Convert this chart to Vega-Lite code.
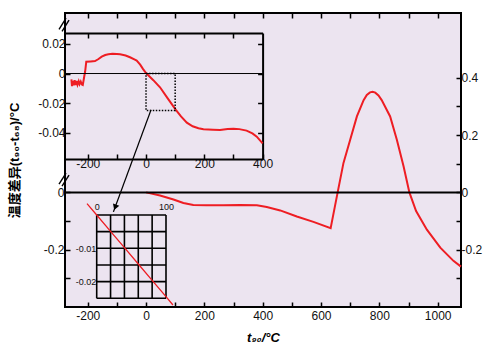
{
  "$schema": "https://vega.github.io/schema/vega-lite/v6.json",
  "width": 396,
  "height": 294,
  "autosize": {"type": "none"},
  "padding": {"left": 65, "top": 13, "right": 39, "bottom": 44},
  "background": "white",
  "config": {
    "view": {"fill": "#ECE4F0", "stroke": "black", "strokeWidth": 2},
    "font": "Liberation Sans",
    "axis": {"labelFont": "Liberation Sans", "labelFontSize": 12, "labelColor": "#111111", "tickColor": "black", "tickWidth": 1.5, "domainColor": "black", "grid": false, "labelOverlap": false, "labelFlush": false, "titleFont": "Liberation Sans, Noto Sans CJK SC", "titleColor": "black"}
  },
  "datasets": {
    "main": [
      {"t": 0, "d": 0}, {"t": 48, "d": -0.011}, {"t": 94, "d": -0.025}, {"t": 128, "d": -0.037}, {"t": 162, "d": -0.044},
      {"t": 208, "d": -0.045}, {"t": 265, "d": -0.045}, {"t": 322, "d": -0.044}, {"t": 380, "d": -0.045}, {"t": 414, "d": -0.051},
      {"t": 460, "d": -0.063}, {"t": 517, "d": -0.084}, {"t": 574, "d": -0.103}, {"t": 633, "d": -0.125}, {"t": 657, "d": 0},
      {"t": 677, "d": 0.103}, {"t": 700, "d": 0.184}, {"t": 723, "d": 0.265}, {"t": 746, "d": 0.322}, {"t": 757, "d": 0.34},
      {"t": 768, "d": 0.349}, {"t": 777, "d": 0.351}, {"t": 786, "d": 0.348}, {"t": 797, "d": 0.338}, {"t": 808, "d": 0.322},
      {"t": 837, "d": 0.265}, {"t": 860, "d": 0.184}, {"t": 883, "d": 0.091}, {"t": 903, "d": 0}, {"t": 926, "d": -0.065},
      {"t": 963, "d": -0.13}, {"t": 1009, "d": -0.193}, {"t": 1054, "d": -0.239}, {"t": 1080, "d": -0.259}
    ],
    "inset": [
      {"t": -256, "d": -0.004}, {"t": -254, "d": -0.0085}, {"t": -251, "d": -0.005}, {"t": -248, "d": -0.008}, {"t": -245, "d": -0.0045},
      {"t": -241, "d": -0.0078}, {"t": -238, "d": -0.005}, {"t": -235, "d": -0.0075}, {"t": -231, "d": -0.0052}, {"t": -228, "d": -0.0072},
      {"t": -224, "d": -0.0055}, {"t": -220, "d": -0.0075}, {"t": -217, "d": -0.0078}, {"t": -212, "d": -0.002}, {"t": -209, "d": 0.0012},
      {"t": -205, "d": 0.008}, {"t": -190, "d": 0.0082}, {"t": -175, "d": 0.0084}, {"t": -163, "d": 0.0098}, {"t": -152, "d": 0.0114},
      {"t": -140, "d": 0.0125}, {"t": -129, "d": 0.013}, {"t": -115, "d": 0.0133}, {"t": -100, "d": 0.0132}, {"t": -89, "d": 0.013},
      {"t": -70, "d": 0.0122}, {"t": -55, "d": 0.011}, {"t": -40, "d": 0.0095}, {"t": -32, "d": 0.0087}, {"t": -20, "d": 0.006},
      {"t": -10, "d": 0.003}, {"t": 0, "d": 0.0003}, {"t": 25, "d": -0.0045}, {"t": 48, "d": -0.0093}, {"t": 75, "d": -0.017},
      {"t": 103, "d": -0.0247}, {"t": 120, "d": -0.029}, {"t": 140, "d": -0.0332}, {"t": 160, "d": -0.0357}, {"t": 180, "d": -0.037},
      {"t": 197, "d": -0.0377}, {"t": 230, "d": -0.038}, {"t": 254, "d": -0.0382}, {"t": 280, "d": -0.0375}, {"t": 300, "d": -0.0373},
      {"t": 320, "d": -0.0376}, {"t": 345, "d": -0.0386}, {"t": 365, "d": -0.0405}, {"t": 380, "d": -0.0427}, {"t": 400, "d": -0.0472}
    ],
    "mag": [
      {"t": -14, "d": 0.0034}, {"t": 0, "d": 0}, {"t": 20, "d": -0.0049}, {"t": 40, "d": -0.0098}, {"t": 60, "d": -0.0147},
      {"t": 80, "d": -0.0196}, {"t": 100, "d": -0.0245}, {"t": 110, "d": -0.027}
    ],
    "gv": [{"gx": 0}, {"gx": 20}, {"gx": 40}, {"gx": 60}, {"gx": 80}, {"gx": 100}],
    "gh": [{"gy": 0}, {"gy": -0.005}, {"gy": -0.01}, {"gy": -0.015}, {"gy": -0.02}, {"gy": -0.025}],
    "breaks": [
      {"x1": -298.5, "y1": 0.569, "x2": -274.4, "y2": 0.608},
      {"x1": -288.2, "y1": 0.562, "x2": -264.2, "y2": 0.601},
      {"x1": -298.5, "y1": 0.0285, "x2": -274.4, "y2": 0.0668},
      {"x1": -288.2, "y1": 0.0216, "x2": -264.2, "y2": 0.0598}
    ],
    "arrow": [{"x1": 17, "y1": 0.288, "x2": -112, "y2": -0.068, "ax": -106, "ay": -0.052}]
  },
  "layer": [
    {
      "layer": [
        {
          "data": {"name": "main"},
          "mark": {"type": "line", "color": "#EE1D23", "strokeWidth": 2},
          "encoding": {
            "x": {"field": "t", "type": "quantitative", "scale": {"domain": [-278, 1080], "nice": false, "zero": false},
              "axis": {"orient": "bottom", "values": [-200, -100, 0, 100, 200, 300, 400, 500, 600, 700, 800, 900, 1000],
                "labelExpr": "datum.value % 200 == 0 ? (datum.value < 0 ? '-' + abs(datum.value) : '' + datum.value) : ''",
                "tickSize": -5, "domain": false, "labelPadding": 8, "title": "t₉₀/°C", "titleFontSize": 13, "titleFontWeight": "bold", "titleFontStyle": "italic", "titlePadding": 10}},
            "y": {"field": "d", "type": "quantitative", "scale": {"domain": [-0.4, 0.626], "nice": false, "zero": false},
              "axis": {"orient": "right", "values": [-0.3, -0.2, -0.1, 0, 0.1, 0.2, 0.3, 0.4],
                "labelExpr": "datum.value == 0.4 ? '0.4' : datum.value == 0.2 ? '0.2' : datum.value == 0 ? '0' : datum.value == -0.2 ? '-0.2' : ''",
                "tickSize": -5, "domain": false, "labelPadding": 5, "title": null}}
          }
        },
        {
          "data": {"values": [{}]},
          "mark": {"type": "rule", "color": "black", "strokeWidth": 2},
          "encoding": {
            "y": {"datum": 0, "type": "quantitative", "scale": {"domain": [-0.4, 0.626], "nice": false, "zero": false},
              "axis": {"orient": "left", "values": [0, -0.1, -0.2, -0.3],
                "labelExpr": "datum.value == 0 ? '0' : datum.value == -0.2 ? '-0.2' : ''",
                "tickSize": -5, "domain": false, "labelPadding": 6, "title": "温度差异(t₉₀-t₆₈)/°C", "titleFontSize": 13, "titleFontWeight": "bold", "titleX": -51, "titleBaseline": "middle"}}
          }
        },
        {
          "data": {"name": "breaks"},
          "mark": {"type": "rule", "color": "black", "strokeWidth": 1.4},
          "encoding": {
            "x": {"field": "x1", "type": "quantitative", "scale": {"domain": [-278, 1080], "nice": false, "zero": false},
              "axis": {"orient": "top", "values": [-200, -100, 0, 100, 200, 300, 400, 500, 600, 700, 800, 900, 1000], "labels": false, "tickSize": -5, "domain": false, "title": null}},
            "y": {"field": "y1", "type": "quantitative", "scale": {"domain": [-0.4, 0.626], "nice": false, "zero": false}, "axis": null},
            "x2": {"field": "x2"},
            "y2": {"field": "y2"}
          }
        },
        {
          "data": {"name": "arrow"},
          "mark": {"type": "rule", "color": "black", "strokeWidth": 1.3},
          "encoding": {
            "x": {"field": "x1", "type": "quantitative", "scale": {"domain": [-278, 1080], "nice": false, "zero": false}, "axis": null},
            "y": {"field": "y1", "type": "quantitative", "scale": {"domain": [-0.4, 0.626], "nice": false, "zero": false}, "axis": null},
            "x2": {"field": "x2"},
            "y2": {"field": "y2"}
          }
        },
        {
          "data": {"name": "arrow"},
          "mark": {"type": "point", "shape": "triangle-down", "filled": true, "color": "black", "size": 45, "angle": 20, "opacity": 1},
          "encoding": {
            "x": {"field": "ax", "type": "quantitative", "scale": {"domain": [-278, 1080], "nice": false, "zero": false}, "axis": null},
            "y": {"field": "ay", "type": "quantitative", "scale": {"domain": [-0.4, 0.626], "nice": false, "zero": false}, "axis": null}
          }
        }
      ],
      "resolve": {"axis": {"x": "independent", "y": "independent"}}
    },
    {
      "layer": [
        {
          "data": {"name": "inset"},
          "mark": {"type": "line", "color": "#EE1D23", "strokeWidth": 2},
          "encoding": {
            "x": {"field": "t", "type": "quantitative", "scale": {"domain": [-278, 400], "range": [0, 197.6], "nice": false, "zero": false},
              "axis": {"orient": "bottom", "offset": -148, "values": [-200, -100, 0, 100, 200, 300, 400],
                "labelExpr": "datum.value % 200 == 0 ? (datum.value < 0 ? '-' + abs(datum.value) : '' + datum.value) : ''",
                "tickSize": -5, "domain": true, "domainWidth": 2, "labelPadding": 4, "title": null}},
            "y": {"field": "d", "type": "quantitative", "scale": {"domain": [-0.0578, 0.0274], "range": [146, 20], "nice": false, "zero": false},
              "axis": {"orient": "right", "offset": -198.4, "values": [0.02, 0, -0.02, -0.04], "labels": false, "tickSize": -5, "domain": true, "domainWidth": 2, "title": null}}
          }
        },
        {
          "data": {"values": [{}]},
          "mark": {"type": "rule", "color": "black", "strokeWidth": 1},
          "encoding": {
            "x": {"datum": -278, "type": "quantitative", "scale": {"domain": [-278, 400], "range": [0, 197.6], "nice": false, "zero": false},
              "axis": {"orient": "top", "offset": -20, "values": [-200, -100, 0, 100, 200, 300], "labels": false, "tickSize": -5, "domain": true, "domainWidth": 2, "title": null}},
            "x2": {"datum": 400},
            "y": {"datum": 0, "type": "quantitative", "scale": {"domain": [-0.0578, 0.0274], "range": [146, 20], "nice": false, "zero": false},
              "axis": {"orient": "left", "values": [0.02, 0, -0.02, -0.04],
                "labelExpr": "datum.value == 0 ? '0' : datum.value > 0 ? '0.02' : datum.value > -0.03 ? '-0.02' : '-0.04'",
                "tickSize": -5, "domain": false, "labelPadding": 5, "title": null}}
          }
        },
        {
          "data": {"values": [{}]},
          "mark": {"type": "rect", "filled": false, "color": "black", "strokeWidth": 1.5, "strokeDash": [1.5, 1.5]},
          "encoding": {
            "x": {"datum": 0, "type": "quantitative", "scale": {"domain": [-278, 400], "range": [0, 197.6], "nice": false, "zero": false}, "axis": null},
            "x2": {"datum": 100},
            "y": {"datum": -0.025, "type": "quantitative", "scale": {"domain": [-0.0578, 0.0274], "range": [146, 20], "nice": false, "zero": false}, "axis": null},
            "y2": {"datum": 0}
          }
        }
      ],
      "resolve": {"axis": {"x": "independent", "y": "independent"}}
    },
    {
      "layer": [
        {
          "data": {"name": "gv"},
          "mark": {"type": "rule", "color": "black", "strokeWidth": 1.6},
          "encoding": {
            "x": {"field": "gx", "type": "quantitative", "scale": {"domain": [0, 100], "range": [31.7, 101], "nice": false, "zero": false},
              "axis": {"orient": "top", "offset": -202, "values": [0, 100], "labelExpr": "datum.value == 0 ? '0' : '100'", "ticks": false, "domain": false, "labelPadding": 4, "labelFontSize": 9, "title": null}},
            "y": {"datum": -0.025, "type": "quantitative", "scale": {"domain": [-0.025, 0], "range": [285.3, 202], "nice": false, "zero": false},
              "axis": {"orient": "left", "offset": -31.7, "values": [-0.01, -0.02], "labelExpr": "datum.value > -0.015 ? '-0.01' : '-0.02'", "ticks": false, "domain": false, "labelPadding": 1, "labelFontSize": 9, "title": null}},
            "y2": {"datum": 0}
          }
        },
        {
          "data": {"name": "gh"},
          "mark": {"type": "rule", "color": "black", "strokeWidth": 1.6},
          "encoding": {
            "y": {"field": "gy", "type": "quantitative", "scale": {"domain": [-0.025, 0], "range": [285.3, 202], "nice": false, "zero": false}, "axis": null},
            "x": {"datum": 0, "type": "quantitative", "scale": {"domain": [0, 100], "range": [31.7, 101], "nice": false, "zero": false}, "axis": null},
            "x2": {"datum": 100}
          }
        },
        {
          "data": {"name": "mag"},
          "mark": {"type": "line", "color": "#EE1D23", "strokeWidth": 1.3},
          "encoding": {
            "x": {"field": "t", "type": "quantitative", "scale": {"domain": [0, 100], "range": [31.7, 101], "nice": false, "zero": false}, "axis": null},
            "y": {"field": "d", "type": "quantitative", "scale": {"domain": [-0.025, 0], "range": [285.3, 202], "nice": false, "zero": false}, "axis": null}
          }
        }
      ],
      "resolve": {"axis": {"x": "independent", "y": "independent"}}
    }
  ],
  "resolve": {"scale": {"x": "independent", "y": "independent"}, "axis": {"x": "independent", "y": "independent"}}
}
